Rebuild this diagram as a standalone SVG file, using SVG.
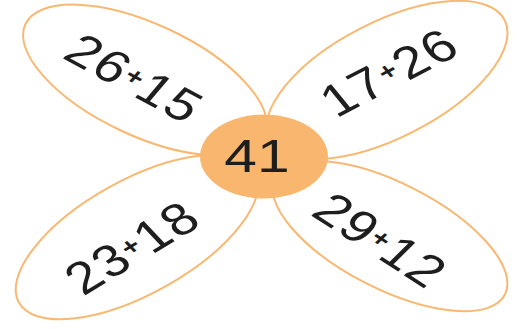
<svg xmlns="http://www.w3.org/2000/svg" width="517" height="329" viewBox="0 0 517 329">
<style>
.petal{fill:none;stroke:#F9B872;stroke-width:2}
.hub{fill:#F9B66E;stroke:none}
.t{font-family:"Liberation Sans",Arial,sans-serif;font-size:45px;fill:#1E1E1E;text-anchor:middle;letter-spacing:1.5px}
.p{font-size:24px;font-weight:bold}
</style>
<rect width="517" height="329" fill="#FFFFFF"/>
<g id="petal-top-left">
<ellipse class="petal" cx="0" cy="0" rx="132" ry="56" transform="translate(145,80) rotate(25)"/>
<text class="t" transform="translate(135,78) scale(1.25,1) rotate(34)" x="0" y="16">26<tspan class="p" dy="-9">+</tspan><tspan dy="9">15</tspan></text>
</g>
<g id="petal-top-right">
<ellipse class="petal" cx="0" cy="0" rx="132" ry="58" transform="translate(387,80) rotate(-27)"/>
<text class="t" transform="translate(389,72) scale(1.25,1) rotate(-33)" x="0" y="16">17<tspan class="p" dy="-9">+</tspan><tspan dy="9">26</tspan></text>
</g>
<g id="petal-bottom-left">
<ellipse class="petal" cx="0" cy="0" rx="135" ry="57" transform="translate(137,237) rotate(-29)"/>
<text class="t" transform="translate(132,247) scale(1.25,1) rotate(-37)" x="0" y="16">23<tspan class="p" dy="-9">+</tspan><tspan dy="9">18</tspan></text>
</g>
<g id="petal-bottom-right">
<ellipse class="petal" cx="0" cy="0" rx="129" ry="53" transform="translate(390,236) rotate(27)"/>
<text class="t" transform="translate(381,240) scale(1.25,1) rotate(39)" x="0" y="16">29<tspan class="p" dy="-9">+</tspan><tspan dy="9">12</tspan></text>
</g>
<g id="center">
<ellipse class="hub" cx="264" cy="156.5" rx="64" ry="42"/>
<text class="t" transform="translate(257,155) scale(1.25,1)" x="0" y="17" style="font-size:47px;letter-spacing:0">41</text>
</g>
</svg>
